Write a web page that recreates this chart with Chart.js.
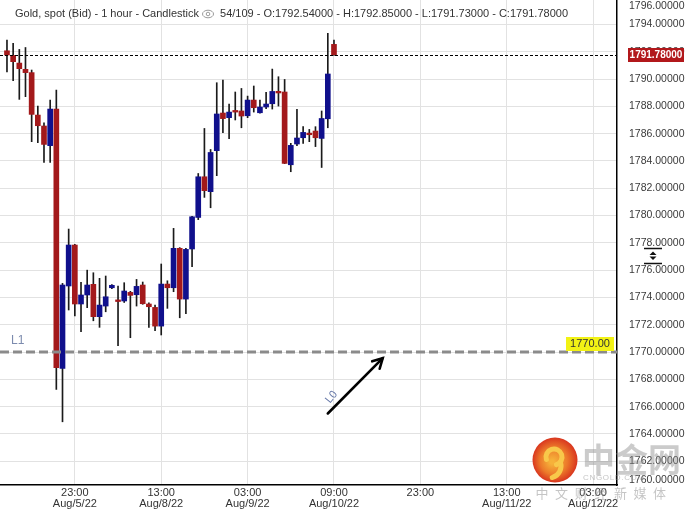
<!DOCTYPE html>
<html><head><meta charset="utf-8">
<script src="https://cdn.jsdelivr.net/npm/chart.js@4.4.1/dist/chart.umd.min.js"></script>
<style>html,body{margin:0;padding:0;background:#fff;overflow:hidden}canvas{display:block}</style>
</head><body>
<canvas id="c" width="689" height="511"></canvas>
<script>
// ---- data ----
const candleIndex = [0,1,2,3,4,5,6,7,8,9,10,11,12,13,14,15,16,17,18,19,20,21,22,23,24,25,26,27,28,29,30,31,32,33,34,35,36,37,38,39,40,41,42,43,44,45,46,47,48,49,50,51,52,53];
const opens  = [1792.07,1791.73,1791.17,1790.71,1790.47,1787.36,1786.56,1785.12,1787.80,1768.80,1774.84,1777.84,1773.52,1774.18,1774.96,1772.59,1773.37,1774.71,1773.82,1773.74,1774.37,1774.20,1774.91,1773.52,1773.27,1771.90,1774.98,1774.71,1777.60,1773.88,1777.55,1779.86,1782.84,1781.75,1784.75,1787.51,1787.17,1787.70,1787.66,1787.31,1788.46,1787.53,1787.95,1788.19,1789.10,1789.05,1783.72,1785.24,1785.70,1786.04,1786.19,1785.65,1787.09,1792.54];
const highs  = [1792.86,1792.62,1792.17,1792.31,1790.66,1788.02,1786.80,1788.46,1789.19,1775.03,1779.01,1777.90,1775.10,1776.00,1775.81,1775.40,1775.57,1774.95,1774.84,1775.08,1774.45,1775.32,1775.13,1773.60,1773.44,1776.45,1775.22,1779.06,1777.65,1777.60,1779.95,1783.08,1786.38,1784.84,1789.73,1789.93,1788.17,1789.05,1789.31,1788.75,1789.49,1788.46,1789.02,1790.73,1790.17,1789.97,1785.29,1787.78,1786.51,1786.31,1786.51,1787.66,1793.35,1792.85];
const lows   = [1790.53,1789.88,1788.51,1788.71,1785.41,1785.34,1783.90,1783.90,1767.27,1764.89,1773.08,1772.64,1771.49,1773.25,1772.29,1771.81,1772.95,1774.65,1770.46,1773.63,1771.05,1773.37,1773.50,1771.81,1771.56,1771.25,1773.20,1774.42,1772.51,1772.81,1776.25,1779.70,1781.33,1780.57,1782.92,1786.07,1785.63,1787.00,1786.43,1787.17,1787.58,1787.50,1787.82,1787.80,1788.02,1783.80,1783.21,1785.12,1785.29,1785.41,1785.05,1783.52,1786.43,1791.73];
const closes = [1791.76,1791.27,1790.76,1790.47,1787.41,1786.58,1785.21,1787.80,1768.85,1774.91,1777.84,1773.52,1774.18,1774.91,1772.59,1773.44,1774.05,1774.89,1773.70,1774.47,1774.15,1774.81,1773.54,1773.32,1771.90,1774.98,1774.71,1777.60,1773.88,1777.52,1779.91,1782.84,1781.82,1784.62,1787.44,1787.10,1787.58,1787.58,1787.29,1788.46,1787.90,1787.95,1788.17,1789.09,1788.98,1783.82,1785.14,1785.68,1786.09,1785.92,1785.70,1787.11,1790.37,1791.78];

const xTickIndex = [11,25,39,53,67,81,95];
const xTickTime  = ['23:00','13:00','03:00','09:00','23:00','13:00','03:00'];
const xTickDate  = ['Aug/5/22','Aug/8/22','Aug/9/22','Aug/10/22','','Aug/11/22','Aug/12/22'];
const yTickValues = [1762,1764,1766,1768,1770,1772,1774,1776,1778,1780,1782,1784,1786,1788,1790,1792,1794];
const yEdgeLabels = [1796,1760];
const levelL1 = 1770.00;
const lastPrice = 1791.78;
const arrowL0 = [[52.0,1765.5],[60.9,1769.55]];
const labelL0 = [52.6,1766.7];
const headerTitle = 'Gold, spot (Bid) - 1 hour - Candlestick';
const headerCount = '54/109';
const wmTitle = '中金网';
const wmSite = 'CNGOLD.COM';
const wmSlogan = ['中','文','财','经','新','媒','体'];

const RED = '#a3191b', BLUE = '#10108c';
const bodyData = candleIndex.map((i,k)=>({x:i, y:[opens[k], closes[k]]}));
const wickData = candleIndex.map((i,k)=>({x:i, y:[lows[k], highs[k]]}));
const bodyColors = candleIndex.map((i,k)=> closes[k] >= opens[k] ? BLUE : RED);

const FONT = "'Liberation Sans', Arial, sans-serif";

const overlay = {
  id: 'overlay',
  afterDatasetsDraw(chart){
    const {ctx, chartArea:a, scales:{x,y}} = chart;
    ctx.save();
    const yL1 = Math.round(y.getPixelForValue(levelL1));
    ctx.strokeStyle = '#8b8b8b'; ctx.lineWidth = 3; ctx.setLineDash([9,4]);
    ctx.beginPath(); ctx.moveTo(a.left, yL1); ctx.lineTo(a.right, yL1); ctx.stroke();
    const yLP = Math.round(y.getPixelForValue(lastPrice)) + 0.5;
    ctx.strokeStyle = '#000'; ctx.lineWidth = 1; ctx.setLineDash([3,2]);
    ctx.beginPath(); ctx.moveTo(a.left, yLP); ctx.lineTo(a.right, yLP); ctx.stroke();
    ctx.setLineDash([]);
    const x0 = x.getPixelForValue(arrowL0[0][0]), y0 = y.getPixelForValue(arrowL0[0][1]);
    const x1 = x.getPixelForValue(arrowL0[1][0]), y1 = y.getPixelForValue(arrowL0[1][1]);
    ctx.strokeStyle = '#000'; ctx.lineWidth = 2.6; ctx.lineCap = 'round';
    ctx.beginPath(); ctx.moveTo(x0,y0); ctx.lineTo(x1,y1); ctx.stroke();
    const ang = Math.atan2(y1-y0, x1-x0), hl = 11;
    ctx.beginPath();
    ctx.moveTo(x1 - hl*Math.cos(ang-0.5), y1 - hl*Math.sin(ang-0.5));
    ctx.lineTo(x1,y1);
    ctx.lineTo(x1 - hl*Math.cos(ang+0.5), y1 - hl*Math.sin(ang+0.5));
    ctx.stroke();
    ctx.save();
    ctx.translate(x.getPixelForValue(labelL0[0]), y.getPixelForValue(labelL0[1]));
    ctx.rotate(-0.9);
    ctx.fillStyle = '#6577a8'; ctx.font = '11px ' + FONT; ctx.textAlign='center'; ctx.textBaseline='middle';
    ctx.fillText('L0', 0, 0);
    ctx.restore();
    ctx.fillStyle = '#7c8bae'; ctx.font = '12px ' + FONT; ctx.textAlign='left'; ctx.textBaseline='middle';
    ctx.fillText('L1', a.left + 11, yL1 - 11);
    ctx.fillStyle = '#f2f215';
    ctx.fillRect(a.right - 51, yL1 - 15, 48, 14);
    ctx.fillStyle = '#333'; ctx.font = '11px ' + FONT; ctx.textAlign='center';
    ctx.fillText(levelL1.toFixed(2), a.right - 27, yL1 - 8);
    ctx.restore();
  },
  afterDraw(chart){
    const {ctx, chartArea:a, scales:{x,y}} = chart;
    ctx.save();
    ctx.fillStyle = '#333'; ctx.font = '11px ' + FONT; ctx.textAlign='left'; ctx.textBaseline='middle';
    ctx.fillText(headerTitle, 15, 14);
    const w1 = ctx.measureText(headerTitle).width;
    const ex = 15 + w1 + 9;
    ctx.strokeStyle = '#9a9a9a'; ctx.lineWidth = 1;
    ctx.beginPath(); ctx.ellipse(ex, 14, 5.5, 3.8, 0, 0, Math.PI*2); ctx.stroke();
    ctx.beginPath(); ctx.arc(ex, 14, 1.8, 0, Math.PI*2); ctx.stroke();
    const last = opens.length - 1;
    const info = headerCount + ' - O:' + opens[last].toFixed(5) + ' - H:' + highs[last].toFixed(5) +
                 ' - L:' + lows[last].toFixed(5) + ' - C:' + closes[last].toFixed(5);
    ctx.fillStyle = '#333';
    ctx.fillText(info, ex + 12, 14);
    ctx.font = '10.5px ' + FONT; ctx.fillStyle = '#3a3a3a';
    ctx.fillText(yEdgeLabels[0].toFixed(5), a.right + 12, 6);
    ctx.fillText(yEdgeLabels[1].toFixed(5), a.right + 12, 480);
    const yLP = Math.round(y.getPixelForValue(lastPrice));
    ctx.fillStyle = '#b2181b';
    ctx.fillRect(a.right + 11, yLP - 7, 56, 14);
    ctx.fillStyle = '#fff'; ctx.font = 'bold 10px ' + FONT; ctx.textAlign='center';
    ctx.fillText(lastPrice.toFixed(5), a.right + 39, yLP);
    ctx.strokeStyle = '#111'; ctx.lineWidth = 1.5;
    ctx.beginPath(); ctx.moveTo(644, 248.5); ctx.lineTo(662, 248.5); ctx.moveTo(644, 263.5); ctx.lineTo(662, 263.5); ctx.stroke();
    ctx.fillStyle = '#111';
    ctx.beginPath(); ctx.moveTo(653, 251.5); ctx.lineTo(656.5, 255); ctx.lineTo(649.5, 255); ctx.closePath(); ctx.fill();
    ctx.beginPath(); ctx.moveTo(653, 260); ctx.lineTo(656.5, 256.5); ctx.lineTo(649.5, 256.5); ctx.closePath(); ctx.fill();
    const cx = 555, cy = 460;
    const g = ctx.createRadialGradient(cx-3, cy+2, 2, cx, cy, 23);
    g.addColorStop(0, '#f6b23a'); g.addColorStop(0.55, '#ec7a2a'); g.addColorStop(1, '#d8321e');
    ctx.fillStyle = g;
    ctx.beginPath(); ctx.arc(cx, cy, 22.5, 0, Math.PI*2); ctx.fill();
    ctx.strokeStyle = '#f8c84a'; ctx.lineWidth = 5; ctx.lineCap='round';
    ctx.beginPath(); ctx.arc(cx-1, cy-3, 8, Math.PI*0.9, Math.PI*2.4); ctx.stroke();
    ctx.beginPath(); ctx.arc(cx-6, cy+6, 12, -0.3, 1.3); ctx.stroke();
    ctx.fillStyle = 'rgba(140,140,140,0.45)';
    ctx.font = "bold 33px 'Noto Sans CJK SC', sans-serif"; ctx.textAlign='left'; ctx.textBaseline='middle';
    ctx.fillText(wmTitle, 582, 459);
    ctx.fillStyle = 'rgba(150,150,150,0.55)';
    ctx.font = '8px ' + FONT;
    ctx.fillText(wmSite.split('').join(String.fromCharCode(8202)), 583, 478);
    ctx.font = "13px 'Noto Sans CJK SC', sans-serif"; ctx.textAlign='center';
    wmSlogan.forEach((ch,k)=> ctx.fillText(ch, 542 + k*19.6, 493));
    ctx.restore();
  }
};

new Chart(document.getElementById('c'), {
  type: 'bar',
  data: {
    datasets: [
      { label:'body', data: bodyData, backgroundColor: bodyColors, barThickness: 5, grouped: false, borderWidth: 0, minBarLength: 1 },
      { label:'wick', data: wickData, backgroundColor: '#1a1a1a', barThickness: 1, grouped: false, borderWidth: 0 }
    ]
  },
  options: {
    responsive: false, animation: false, devicePixelRatio: 1,
    layout: { padding: 0, autoPadding: false },
    plugins: { legend: {display:false}, tooltip: {enabled:false}, title:{display:false} },
    scales: {
      x: {
        type: 'linear', min: -1.13, max: 98.87, offset: false,
        grid: { color: '#e2e2e2', drawTicks: false, offset: false },
        border: { color: '#000', width: 1.5 },
        afterBuildTicks: s => { s.ticks = xTickIndex.map(v=>({value:v})); },
        afterFit: s => { s.height = 26; s.paddingLeft = 0; s.paddingRight = 0; s.paddingTop = 0; s.paddingBottom = 0; },
        ticks: {
          padding: 2, color: '#333', font: { family: FONT, size: 11, lineHeight: 1.05 }, maxRotation: 0, autoSkip: false,
          callback: v => { const k = xTickIndex.indexOf(v); return xTickDate[k] ? [xTickTime[k], xTickDate[k]] : [xTickTime[k]]; }
        }
      },
      y: {
        position: 'right', min: 1760.26, max: 1795.79,
        grid: { color: '#e2e2e2', drawTicks: false },
        border: { color: '#000', width: 1.5 },
        afterBuildTicks: s => { s.ticks = yTickValues.map(v=>({value:v})); },
        afterFit: s => { s.width = 72; s.paddingTop = 0; s.paddingBottom = 0; s.paddingLeft = 0; s.paddingRight = 0; },
        ticks: { padding: 12, color: '#3a3a3a', font: { family: FONT, size: 10.5 }, callback: v => Number(v).toFixed(5) }
      }
    }
  },
  plugins: [overlay]
});
</script>
</body></html>
